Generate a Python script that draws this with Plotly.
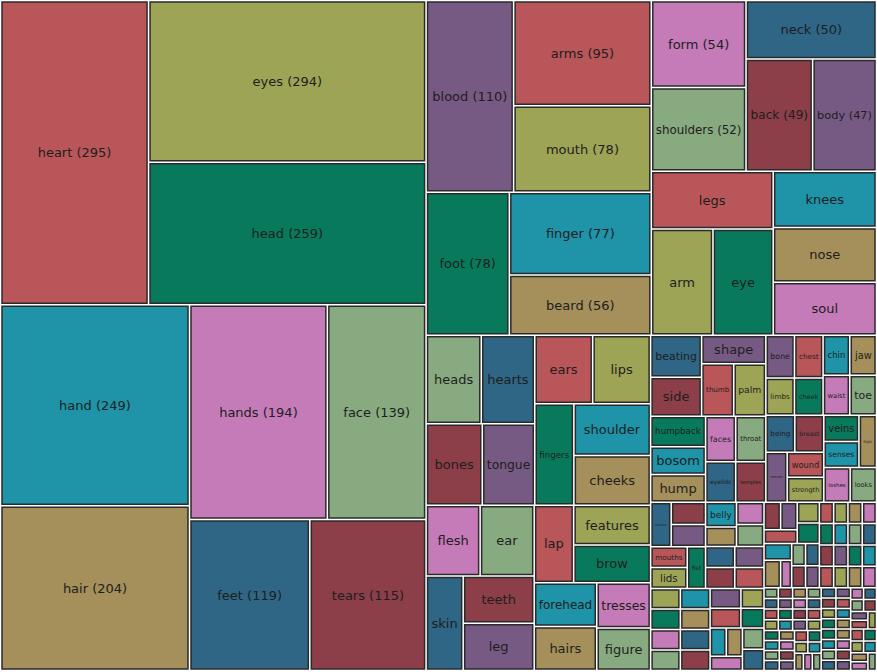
import plotly.graph_objects as go

# words ranked by count (the top 20 show their count in the label);
# an empty word means the cell carries no visible label
words = [
    "heart", "eyes", "head", "hand", "hair", "hands", "face", "feet", "tears", "blood",
    "arms", "mouth", "foot", "finger", "beard", "form", "shoulders", "neck", "back", "body",
    "legs", "arm", "eye", "knees", "nose", "soul", "heads", "hearts", "bones", "tongue",
    "ears", "lips", "fingers", "shoulder", "cheeks", "flesh", "ear", "skin", "teeth", "leg",
    "lap", "features", "brow", "forehead", "hairs", "tresses", "figure", "beating", "side", "shape",
    "thumb", "palm", "humpback", "bosom", "hump", "faces", "throat", "eyelids", "temples", "bone",
    "chest", "limbs", "cheek", "chin", "jaw", "waist", "toe", "being", "breast", "nerves",
    "wound", "strength", "veins", "senses", "hips", "lashes", "looks", "bosoms", "", "",
    "mouths", "lids", "fist", "belly",
]

counts = [
    295, 294, 259, 249, 204, 194, 139, 119, 115, 110,
    95, 78, 78, 77, 56, 54, 52, 50, 49, 47,
    46, 43, 42, 38, 37, 36, 32, 31, 30, 28,
    26, 26, 26, 26, 25, 25, 25, 23, 22, 22,
    20, 20, 19, 18, 18, 16, 15, 14, 13, 12,
    11, 11, 11, 10, 10, 9, 9, 8, 8, 8,
    8, 7, 7, 7, 7, 7, 7, 7, 7, 7,
    6, 6, 6, 6, 6, 6, 6, 6, 5, 5,
    5, 5, 5, 5,
    # the long tail of words too small to be labelled
    4, 4, 4, 4, 4, 4, 4, 4, 4, 4, 4, 4, 4, 4, 4, 4,
    4, 3, 3, 3, 3, 3, 3, 3,
    3, 3, 3, 3, 3, 3, 3,
    2, 2, 2, 2, 2, 2, 2, 2, 2, 2, 2, 2, 2, 2, 2, 2, 2, 2, 2, 2, 2,
    1, 1, 1, 1, 1, 1, 1, 1, 1, 1, 1, 1, 1, 1, 1, 1, 1, 1, 1, 1,
    1, 1, 1, 1, 1, 1, 1, 1, 1, 1, 1, 1, 1, 1, 1, 1, 1, 1, 1, 1,
    1, 1, 1, 1, 1, 1, 1, 1, 1, 1, 1, 1, 1, 1, 1, 1, 1, 1, 1, 1,
    1,
]

palette = ["#b95659", "#9da456", "#087a5b", "#1f93a8", "#a58f5a",
           "#c47bb8", "#88aa80", "#2f6585", "#8c3f48", "#765a83"]

n_labelled = 20

ids = []
texts = []
colors = []
for i, c in enumerate(counts):
    ids.append("w%d" % i)
    w = words[i] if i < len(words) else ""
    if w and i < n_labelled:
        texts.append("%s (%d)" % (w, c))
    else:
        texts.append(w)
    colors.append(palette[i % len(palette)])

fig = go.Figure(go.Treemap(
    ids=ids,
    labels=texts,
    parents=[""] * len(counts),
    values=counts,
    text=texts,
    texttemplate="%{text}",
    textposition="middle center",
    textfont=dict(family="DejaVu Sans", size=13, color="#1e1e1e"),
    marker=dict(colors=colors, line=dict(color="#2a2a2a", width=1.5),
                pad=dict(t=0, l=0, r=0, b=0)),
    tiling=dict(packing="binary", pad=3),
    pathbar=dict(visible=False),
    sort=True,
    hoverinfo="label+value",
))

fig.update_layout(
    width=877, height=672,
    margin=dict(l=2, r=2, t=2, b=3),
    paper_bgcolor="white",
)

# drop the page's default body margin so the chart sits at the window edge
fig.write_html("out.html", config={"displayModeBar": False},
               post_script="document.body.style.margin='0';")
